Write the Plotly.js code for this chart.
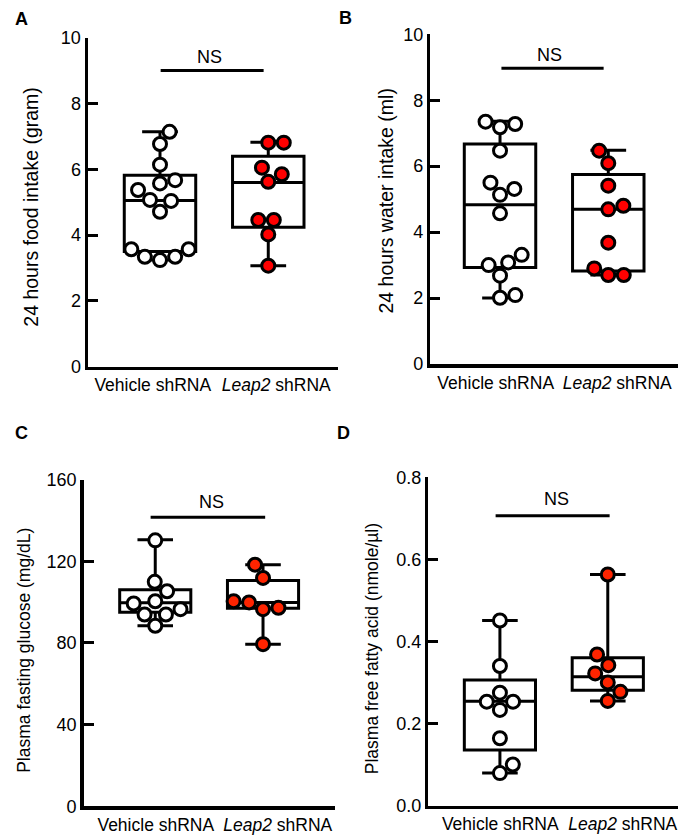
<!DOCTYPE html>
<html>
<head>
<meta charset="utf-8">
<script src="https://cdn.plot.ly/plotly-3.0.1.min.js"></script>
<style>html,body{margin:0;padding:0;background:#fff;}#chart{width:678px;height:835px;}</style>
</head>
<body>
<div id="chart"></div>
<script>
// ---------- data ----------
const categories = ['Vehicle shRNA', '<i>Leap2</i> shRNA'];

// A: 24 hours food intake (gram)
const foodVehicle = [7.14, 6.77, 6.14, 5.37, 5.57, 5.67, 5.04, 5.07, 4.71, 3.57, 3.34, 3.24, 3.34, 3.57];
const foodLeap2   = [6.81, 6.81, 6.05, 5.85, 5.62, 4.46, 4.46, 4.02, 3.07];
const foodQ1 = [3.50, 4.24], foodMedian = [5.05, 5.60], foodQ3 = [5.82, 6.40], foodMin = [3.24, 3.07], foodMax = [7.14, 6.82];

// B: 24 hours water intake (ml)
const waterVehicle = [7.35, 7.18, 7.28, 6.47, 5.31, 5.50, 5.13, 4.57, 3.31, 3.08, 3.00, 2.68, 2.01, 2.09];
const waterLeap2   = [6.47, 6.09, 5.41, 4.69, 4.80, 3.68, 2.90, 2.70, 2.70];
const waterQ1 = [2.93, 2.82], waterMedian = [4.83, 4.69], waterQ3 = [6.67, 5.75], waterMin = [2.00, 2.70], waterMax = [7.36, 6.48];

// C: Plasma fasting glucose (mg/dL)
const glucoseVehicle = [130.2, 109.9, 105.3, 100.4, 99.3, 96.5, 93.9, 93.9, 88.4];
const glucoseLeap2   = [118.3, 111.8, 100.4, 99.8, 97.2, 96.5, 79.4];
const glucoseQ1 = [95.0, 97.0], glucoseMedian = [99.6, 99.8], glucoseQ3 = [106.0, 110.5], glucoseMin = [88.4, 79.4], glucoseMax = [130.5, 118.3];

// D: Plasma free fatty acid (nmole/µl)
const ffaVehicle = [0.451, 0.340, 0.275, 0.253, 0.253, 0.233, 0.164, 0.100, 0.079];
const ffaLeap2   = [0.563, 0.368, 0.342, 0.322, 0.300, 0.277, 0.255];
const ffaQ1 = [0.135, 0.281], ffaMedian = [0.254, 0.314], ffaQ3 = [0.306, 0.360], ffaMin = [0.079, 0.255], ffaMax = [0.451, 0.563];

const panelLetters = ['A', 'B', 'C', 'D'];
const yTitles = ['24 hours food intake (gram)', '24 hours water intake (ml)', 'Plasma fasting glucose (mg/dL)', 'Plasma free fatty acid (nmole/µl)'];
const sigLabel = 'NS';

// ---------- layout helpers ----------
const W = 678, H = 835;
const FONT = 'Liberation Sans, Arial, Helvetica, sans-serif';
const px2fx = p => p / W;
const px2fy = p => 1 - p / H;

const panels = [
  {id: '', vals: [foodVehicle, foodLeap2], q1: foodQ1, med: foodMedian, q3: foodQ3, lo: foodMin, hi: foodMax,
   xpx: [88, 338], ypx: [37.7, 366.7], xr: [-0.665, 1.644], yr: [0, 10], dtick: 2, fmt: '',
   tickvals: [-0.067, 1.074], red: '#ff0000', bar: [0.006, 0.957, 9.0], ns: [209.5, 56.5],
   letter: [21.5, 18.5], title: [31, 206.7], tsize: 19.5},
  {id: '2', vals: [waterVehicle, waterLeap2], q1: waterQ1, med: waterMedian, q3: waterQ3, lo: waterMin, hi: waterMax,
   xpx: [430.3, 678], ypx: [34.3, 364], xr: [-0.644, 1.644], yr: [0, 10], dtick: 2, fmt: '',
   tickvals: [-0.04, 1.083], red: '#ff0000', bar: [0.013, 0.957, 8.97], ns: [549.5, 55],
   letter: [345, 17.5], title: [385, 200.5], tsize: 19.5},
  {id: '3', vals: [glucoseVehicle, glucoseLeap2], q1: glucoseQ1, med: glucoseMedian, q3: glucoseQ3, lo: glucoseMin, hi: glucoseMax,
   xpx: [83.7, 335], ypx: [479.5, 806.3], xr: [-0.664, 1.668], yr: [0, 160], dtick: 40, fmt: '',
   tickvals: [0.005, 1.137], red: '#ff2400', bar: [-0.043, 1.02, 141.5], ns: [211.5, 501.5],
   letter: [21.7, 433.3], title: [24, 650.8], tsize: 17.5},
  {id: '4', vals: [ffaVehicle, ffaLeap2], q1: ffaQ1, med: ffaMedian, q3: ffaQ3, lo: ffaMin, hi: ffaMax,
   xpx: [428.3, 678], ypx: [477.3, 805.5], xr: [-0.664, 1.651], yr: [0, 0.8], dtick: 0.2, fmt: '.1f',
   tickvals: [0.003, 1.139], red: '#ff2400', bar: [-0.04, 1.017, 0.706], ns: [556.5, 499],
   letter: [343.5, 433.5], title: [372, 649.2], tsize: 17.5}
];

// beeswarm: place each point (sorted by value) at the horizontal offset closest
// to the centre that does not overlap already placed markers
function swarm(values, pxPerY, diam) {
  const order = values.map((v, i) => i).sort((a, b) => values[a] - values[b]);
  const placed = [];
  const xs = new Array(values.length).fill(0);
  let side = -1;
  for (const i of order) {
    const y = values[i] * pxPerY;
    const iv = [];
    for (const p of placed) {
      const dy = Math.abs(p.y - y);
      if (dy < diam) { const w = Math.sqrt(diam * diam - dy * dy); iv.push([p.x - w, p.x + w]); }
    }
    const cands = [0];
    iv.forEach(([a, b]) => cands.push(a, b));
    cands.sort((a, b) => (Math.abs(a) - Math.abs(b)) || (side * (a - b)));
    let best = 0;
    for (const c of cands) {
      if (iv.every(([a, b]) => c <= a + 1e-6 || c >= b - 1e-6)) { best = c; break; }
    }
    if (Math.abs(best) > 1e-6) side = -side;
    xs[i] = best;
    placed.push({x: best, y});
  }
  return xs;
}

const traces = [];
const layout = {
  width: W, height: H, margin: {l: 0, r: 0, t: 0, b: 0},
  paper_bgcolor: '#fff', plot_bgcolor: 'rgba(0,0,0,0)', showlegend: false,
  font: {family: FONT, color: '#000'},
  annotations: [], shapes: []
};

panels.forEach((P, k) => {
  const xa = 'x' + P.id, ya = 'y' + P.id;
  const xKey = 'xaxis' + P.id, yKey = 'yaxis' + P.id;
  const xDom = [px2fx(P.xpx[0]), px2fx(P.xpx[1])];
  const yDom = [px2fy(P.ypx[1]), px2fy(P.ypx[0])];
  const pxPerX = (P.xpx[1] - P.xpx[0]) / (P.xr[1] - P.xr[0]);
  const pxPerY = (P.ypx[1] - P.ypx[0]) / (P.yr[1] - P.yr[0]);

  layout[xKey] = {
    domain: xDom, range: P.xr, anchor: ya, showgrid: false, zeroline: false,
    showline: true, linewidth: 3.5, linecolor: '#000', ticks: '',
    tickmode: 'array', tickvals: P.tickvals, ticktext: categories,
    tickfont: {family: FONT, size: 17.5, color: '#000'}, fixedrange: true
  };
  layout[yKey] = {
    domain: yDom, range: P.yr, anchor: xa, showgrid: false, zeroline: false,
    showline: true, linewidth: 3.5, linecolor: '#000',
    ticks: 'inside', ticklen: 10, tickwidth: 3, tickcolor: '#000',
    tickmode: 'linear', tick0: 0, dtick: P.dtick, tickformat: P.fmt,
    tickfont: {family: FONT, size: 18, color: '#000'}, fixedrange: true
  };

  traces.push({
    type: 'box', xaxis: xa, yaxis: ya, x: [0, 1],
    q1: P.q1, median: P.med, q3: P.q3, lowerfence: P.lo, upperfence: P.hi,
    boxpoints: false, width: 0.66, whiskerwidth: 0.5,
    line: {color: '#000', width: 3}, fillcolor: '#ffffff', hoverinfo: 'skip'
  });

  P.vals.forEach((vals, g) => {
    const offs = swarm(vals, pxPerY, 15.5);
    traces.push({
      type: 'scatter', mode: 'markers', xaxis: xa, yaxis: ya,
      x: vals.map((v, i) => g + offs[i] / pxPerX), y: vals, cliponaxis: false,
      marker: {size: 13, color: g === 0 ? '#ffffff' : P.red, line: {color: '#000', width: 3}},
      hoverinfo: 'y'
    });
  });

  layout.shapes.push({type: 'line', xref: xa, yref: ya, x0: P.bar[0], x1: P.bar[1], y0: P.bar[2], y1: P.bar[2],
    line: {color: '#000', width: 3}});

  layout.annotations.push(
    {text: sigLabel, xref: 'paper', yref: 'paper', x: px2fx(P.ns[0]), y: px2fy(P.ns[1]),
     xanchor: 'center', yanchor: 'middle', showarrow: false, font: {family: FONT, size: 18, color: '#000'}},
    {text: '<b>' + panelLetters[k] + '</b>', xref: 'paper', yref: 'paper', x: px2fx(P.letter[0]), y: px2fy(P.letter[1]),
     xanchor: 'center', yanchor: 'middle', showarrow: false, font: {family: FONT, size: 18, color: '#000'}},
    {text: yTitles[k], xref: 'paper', yref: 'paper', x: px2fx(P.title[0]), y: px2fy(P.title[1]),
     xanchor: 'center', yanchor: 'middle', textangle: -90, showarrow: false,
     font: {family: FONT, size: P.tsize, color: '#000'}}
  );
});

Plotly.newPlot('chart', traces, layout, {staticPlot: true, displayModeBar: false});
</script>
</body>
</html>
